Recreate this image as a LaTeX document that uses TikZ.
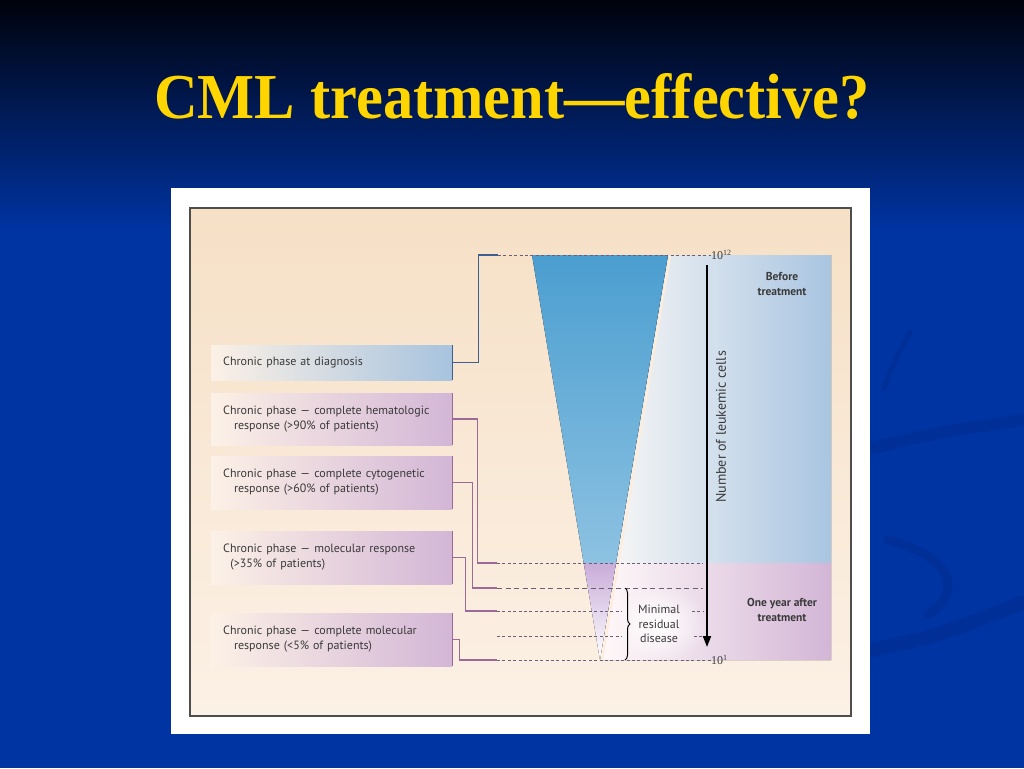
\documentclass[tikz,border=0pt]{standalone}
\usepackage{fontspec}
\setmainfont{Liberation Serif}
\setsansfont{PT Sans}
\usetikzlibrary{arrows.meta,decorations.pathreplacing,fadings}
\definecolor{SlideBlue}{HTML}{0034A2}
\definecolor{SlideTop}{HTML}{00020C}
\definecolor{SwooshBlue}{HTML}{002F97}
\definecolor{TitleGold}{HTML}{FFD500}
\definecolor{PanelCream}{HTML}{F6E0C6}
\definecolor{PanelLight}{HTML}{FCF1E6}
\definecolor{DiagBlue}{HTML}{3E5F90}
\definecolor{RespPurple}{HTML}{9A6A98}
\definecolor{BoxBlue}{HTML}{A7C3DE}
\definecolor{BoxPurple}{HTML}{D3B6D6}
\definecolor{SideBlue}{HTML}{A9C5E1}
\definecolor{FunnelTop}{HTML}{4B9ED0}
\definecolor{FunnelLow}{HTML}{8DC2E2}
\definecolor{FunnelPink}{HTML}{C9ADD9}
\definecolor{DashGray}{HTML}{6B5F78}
\definecolor{InkGray}{HTML}{3A3A3A}
\tikzfading[name=fuzzycloud, inner color=transparent!0, outer color=transparent!100]

\begin{document}
\begin{tikzpicture}[x=1pt, y=-1pt,
  phase/.style={anchor=west, minimum width=241pt, text width=217pt, inner xsep=12pt, inner ysep=0pt, align=left, text=InkGray, left color=PanelLight, font=\sffamily\fontsize{12}{15}\selectfont},
  link/.style={line width=1.2pt, #1},
  dots/.style={DashGray, line width=0.9pt, dash pattern=on 3pt off 2.4pt},
  note/.style={font=\sffamily\bfseries\fontsize{11.5}{14.5}\selectfont, text=InkGray, align=center},
  swoosh/.style={SwooshBlue, line width=#1, line cap=round}
]
\useasboundingbox (0,0) rectangle (1024,768);
\shade[top color=SlideTop, bottom color=SlideBlue] (0,0) rectangle (1024,230);
\fill[SlideBlue] (0,229) rectangle (1024,768);
\draw[swoosh=5pt] (884,388) .. controls (895,360) .. (910,332);
\draw[swoosh=12pt] (872,448) .. controls (940,432) .. (1022,420);
\draw[swoosh=9pt] (888,540) .. controls (965,560) and (955,600) .. (928,614);
\draw[swoosh=14pt] (872,650) .. controls (940,635) .. (1022,603);

\node[font=\bfseries\fontsize{64}{70}\selectfont, text=TitleGold, anchor=base] (title) at (512,118) {\scalebox{0.945}[1]{CML treatment—effective?}};

\fill[white] (171,188) rectangle (870,734);
\shade[top color=PanelCream, bottom color=PanelLight, draw=InkGray!90, line width=1.5pt] (190,208) rectangle (851,716);

\fill[left color=white!92!gray, right color=SideBlue] (668,255) -- (831,255) -- (831,563) -- (616,563) -- cycle;
\fill[left color=white!90!pink, right color=BoxPurple] (616,563) -- (831,563) -- (831,660) -- (600,660) -- cycle;
\fill[top color=FunnelTop, bottom color=FunnelLow] (532,255) -- (668,255) -- (616,563) -- (583.7,563) -- cycle;
\fill[top color=FunnelPink, bottom color=white] (583.7,563) -- (616,563) -- (600,660) -- cycle;
\draw[orange!15, line width=2pt] (670,256) -- (602,660);
\fill[white, path fading=fuzzycloud] (660,624) ellipse (48 and 38);

\node[phase, right color=BoxBlue, minimum height=35pt] (diag) at (211,362.5) {Chronic phase at diagnosis};
\node[phase, right color=BoxPurple, minimum height=52pt] (hema) at (211,419) {Chronic phase — complete hematologic\\\hspace*{0.9em}response (>90\% of patients)};
\node[phase, right color=BoxPurple, minimum height=53pt] (cyto) at (211,482.5) {Chronic phase — complete cytogenetic\\\hspace*{0.9em}response (>60\% of patients)};
\node[phase, right color=BoxPurple, minimum height=53pt] (molec) at (211,557.5) {Chronic phase — molecular response\\\hspace*{0.6em}(>35\% of patients)};
\node[phase, right color=BoxPurple, minimum height=53pt] (cmolec) at (211,639.5) {Chronic phase — complete molecular\\\hspace*{0.9em}response (<5\% of patients)};
\draw[link=DiagBlue] (diag.north east) -- (diag.south east);
\foreach \b in {hema,cyto,molec,cmolec}
  \draw[link=RespPurple] (\b.north east) -- (\b.south east);

\node[anchor=west, inner sep=0pt, font=\fontsize{12}{14}\selectfont, text=InkGray] (e12) at (711,255) {10\textsuperscript{12}};
\node[anchor=west, inner sep=0pt, font=\fontsize{12}{14}\selectfont, text=InkGray] (e1) at (711,660) {10\textsuperscript{1}};
\coordinate (c12) at (498,255);
\coordinate (c2) at (497,563);
\coordinate (c3) at (497,588);
\coordinate (c4) at (497,611);
\coordinate (c5) at (497,636);
\coordinate (c1) at (497,660);
\coordinate (r2) at (703,563);
\coordinate (r3) at (703,588);
\coordinate (r4) at (703,611);
\coordinate (r5) at (703,636);

\draw[link=DiagBlue] (diag.east) -- ++(26,0) |- (c12);
\draw[link=RespPurple] (hema.east) -- ++(25,0) |- (c2);
\draw[link=RespPurple] (cyto.east) -- ++(20,0) |- (c3);
\draw[link=RespPurple] (molec.east) -- ++(13,0) |- (c4);
\draw[link=RespPurple] (cmolec.east) -- ++(7,0) |- (c1);
\draw[dots] (c12) -- (e12.west);
\draw[dots] (c2) -- (r2);
\draw[dots, dash pattern=on 5pt off 3.5pt] (c3) -- (r3);
\draw[dots] (c4) -- (622,611) (692,611) -- (r4);
\draw[dots] (c5) -- (622,636) (694,636) -- (r5);
\draw[dots] (c1) -- (e1.west);

\coordinate (ax1) at (707,265);
\coordinate (ax2) at (707,647);
\draw[line width=1.8pt, -{Triangle[length=11pt, width=8pt]}] (ax1) -- (ax2);
\node[rotate=90, font=\sffamily\fontsize{14}{16}\selectfont, text=InkGray] (axis) at (721,427) {Number of leukemic cells};

\coordinate (b1) at (625,588);
\coordinate (b2) at (625,660);
\draw[decorate, decoration={brace, amplitude=5pt}, line width=1pt] (b1) -- (b2);
\node[font=\sffamily\fontsize{12}{14.5}\selectfont, text=InkGray, align=center] (mrd) at (659,624) {Minimal\\residual\\disease};

\node[note] (before) at (782,284) {Before\\treatment};
\node[note] (after) at (782,610) {One year after\\treatment};
\end{tikzpicture}
\end{document}
